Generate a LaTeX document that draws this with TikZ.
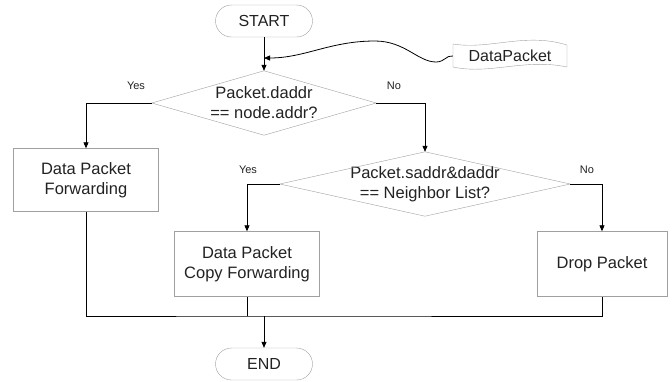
\documentclass[tikz,border=0pt]{standalone}
\usepackage{fontspec}
\setmainfont{Liberation Sans}
\usetikzlibrary{shapes.geometric, arrows.meta, positioning, calc}
\definecolor{fcborder}{HTML}{A0A0A0}
\definecolor{fctext}{HTML}{222222}

\begin{document}
\begin{tikzpicture}[x=1pt, y=-1pt,
    terminal/.style={rectangle, rounded corners=16pt, draw=fcborder, minimum width=97pt, minimum height=32pt, font=\fontsize{16}{19}\selectfont, text=fctext},
    process/.style={rectangle, draw=fcborder, minimum width=#1, minimum height=63pt, align=center, font=\fontsize{16.5}{20}\selectfont, text=fctext},
    decision/.style={rectangle, inner sep=0pt, minimum width=#1, minimum height=64pt, align=center, font=\fontsize{16.5}{20}\selectfont, text=fctext},
    answer/.style={font=\fontsize{11}{13}\selectfont, text=fctext},
    flow/.style={-{Triangle[length=6pt, width=5pt]}, line width=0.8pt}
]
\useasboundingbox (0,0) rectangle (672,381);

\node[terminal] (start) at (264,21) {START};
\node[inner sep=0pt, minimum width=114pt, minimum height=25pt, font=\fontsize{16}{19}\selectfont, text=fctext] (packet) at (510,56) {DataPacket};
\coordinate (merge) at (264,58);

\node[decision=224pt] (dest) at (264,103) {Packet.daddr\\== node.addr?};
\node[process=145pt] (fwd) at (86,180) {Data Packet\\Forwarding};
\node[decision=290pt] (neigh) at (425,184) {Packet.saddr\&daddr\\== Neighbor List?};
\node[process=145pt, minimum height=65pt] (copy) at (247,264) {Data Packet\\Copy Forwarding};
\node[process=130pt, minimum height=65pt] (drop) at (602,264) {Drop Packet};
\node[terminal] (end) at (264,364) {END};
\coordinate (join) at (264,316);

% decision outlines
\draw[fcborder] (dest.north) -- (dest.east) -- (dest.south) -- (dest.west) -- cycle;
\draw[fcborder] (neigh.north) -- (neigh.east) -- (neigh.south) -- (neigh.west) -- cycle;

% data packet (document shape)
\draw[fcborder] (453,44) .. controls (490,50) and (525,32) .. (567,45) -- (567,67)
    .. controls (525,58) and (490,75) .. (453,67) -- cycle;

% connectors
\draw[flow] (start.south) -- (dest.north);
\draw[flow] (packet.west) .. controls (446,55) and (445,62) .. (436,62)
    .. controls (418,62) and (405,41) .. (375,41)
    .. controls (330,41) and (305,58) .. (merge);
\draw[flow] (dest.west) -| (fwd.north);
\draw[flow] (dest.east) -| (neigh.north);
\draw[flow] (neigh.west) -| (copy.north);
\draw[flow] (neigh.east) -| (drop.north);
\draw[line width=0.8pt] (fwd.south) |- (join) -| (drop.south);
\draw[line width=0.8pt] (copy.south) -- (copy.south |- join);
\draw[flow] (join) -- (end.north);

\node[answer] (yes1) at (136,86) {Yes};
\node[answer] (no1) at (394,86) {No};
\node[answer] (yes2) at (248,170) {Yes};
\node[answer] (no2) at (587,170) {No};
\end{tikzpicture}
\end{document}
